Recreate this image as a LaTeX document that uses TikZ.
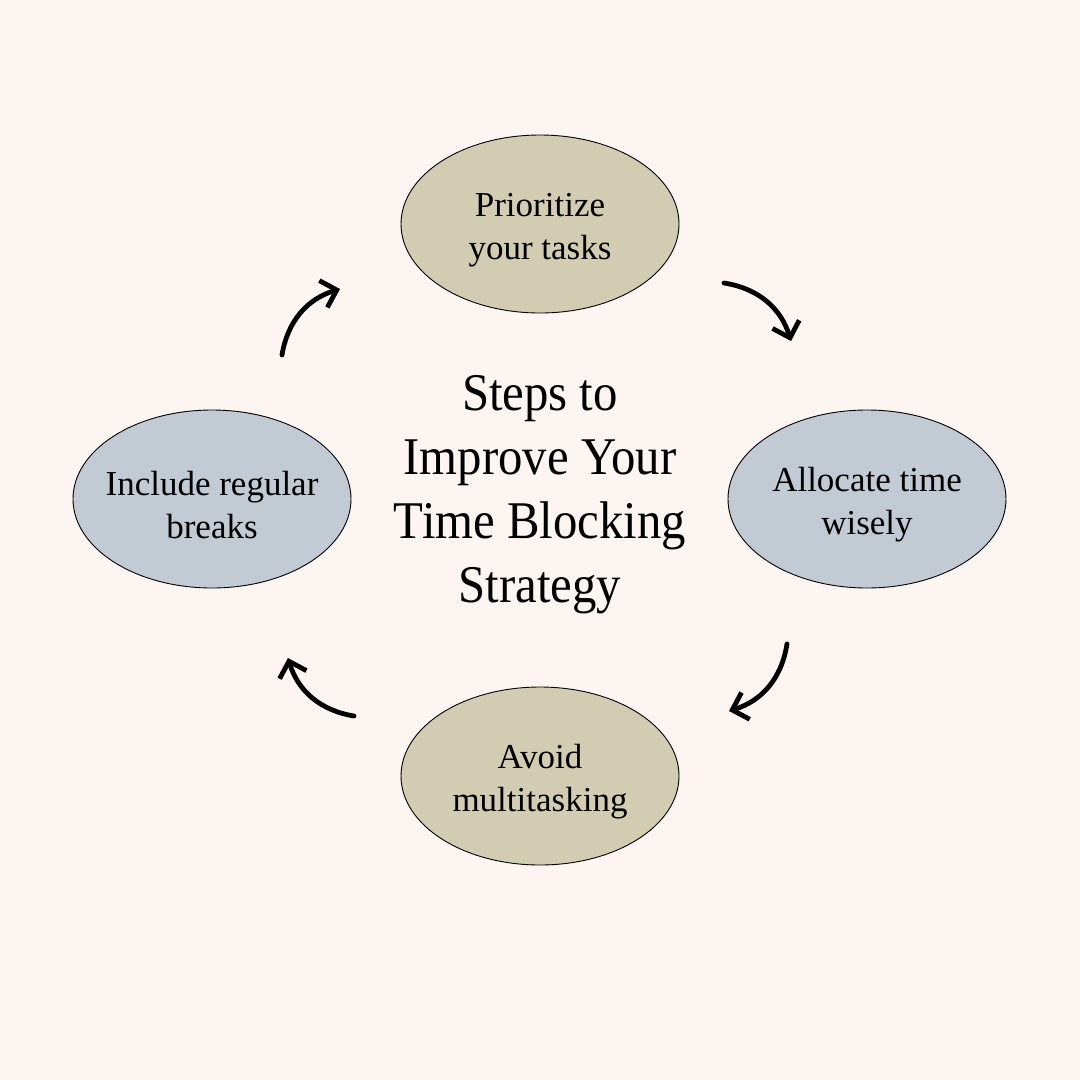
\documentclass[tikz,border=0pt]{standalone}
\usepackage{fontspec}
\setmainfont{Liberation Serif}
\newfontfamily\titlefont[FakeStretch=0.92]{Liberation Serif}
\newfontfamily\boxfont[FakeStretch=1.0]{Liberation Serif}
\usetikzlibrary{shapes.geometric,arrows.meta}
\definecolor{bg}{HTML}{FCF5F1}
\definecolor{tan}{HTML}{D2CCB3}
\definecolor{bluegrey}{HTML}{C2CAD3}
\tikzset{
  stepellipse/.style={ellipse, draw=black, line width=0.9pt, minimum width=278pt, minimum height=178pt, inner sep=0pt},
  steptext/.style={align=center, inner sep=0pt, font=\boxfont\fontsize{35}{43}\selectfont},
  cyclearrow/.style={line width=4.8pt, line cap=round, -{Straight Barb[length=14pt,width=28pt,line width=4.8pt]}, bend left=32}
}
\begin{document}
\begin{tikzpicture}[x=1pt,y=1pt]
\fill[bg] (0,0) rectangle (1080,-1080);
\useasboundingbox (0,0) rectangle (1080,-1080);
\node[stepellipse, fill=tan] (top) at (540,-224) {};
\node[stepellipse, fill=bluegrey] (right) at (867,-499) {};
\node[stepellipse, fill=tan] (bottom) at (540,-776) {};
\node[stepellipse, fill=bluegrey] (left) at (212,-499) {};
\node[steptext] (topt) at ([yshift=-6pt]top.center) {Prioritize\\your tasks};
\node[steptext] (rightt) at ([yshift=-6pt]right.center) {Allocate time\\wisely};
\node[steptext] (bottomt) at ([yshift=-6pt]bottom.center) {Avoid\\multitasking};
\node[steptext] (leftt) at ([yshift=-6pt]left.center) {Include regular\\breaks};
\node[align=center, font=\titlefont\fontsize{53}{64}\selectfont] (title) at (540,-495) {Steps to\\Improve Your\\Time Blocking\\Strategy};
\coordinate (a1s) at (724,-283); \coordinate (a1e) at (791,-341);
\coordinate (a2s) at (787,-644); \coordinate (a2e) at (729,-711);
\coordinate (a3s) at (354,-716); \coordinate (a3e) at (288,-658);
\coordinate (a4s) at (282,-355); \coordinate (a4e) at (340,-289);
\draw[cyclearrow] (a1s) to (a1e);
\draw[cyclearrow] (a2s) to (a2e);
\draw[cyclearrow] (a3s) to (a3e);
\draw[cyclearrow] (a4s) to (a4e);
\end{tikzpicture}
\end{document}
